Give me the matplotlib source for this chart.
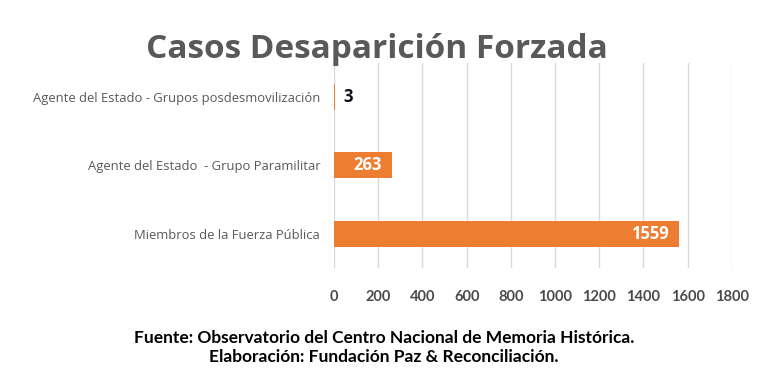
import matplotlib
matplotlib.use("Agg")
from matplotlib import pyplot as plt

# Data
categories = ["Agente del Estado - Grupos posdesmovilización",
              "Agente del Estado  - Grupo Paramilitar",
              "Miembros de la Fuerza Pública"]
values = [3, 263, 1559]
xTicks = [0, 200, 400, 600, 800, 1000, 1200, 1400, 1600, 1800]

barColor = "#ED7D31"
textGray = "#595959"

figure = plt.figure(figsize=(7.68, 3.88), dpi=100)
axis = figure.add_axes([0.435, 0.309, 0.518, 0.529])

positions = list(range(len(categories)))
axis.barh(positions, values, height=0.38, color=barColor, zorder=3)

axis.set_xlim(0, 1800)
axis.set_ylim(2.5, -0.5)
axis.set_xticks(xTicks)
axis.set_yticks(positions)
axis.set_yticklabels(categories, fontsize=9.4, color=textGray, family="Open Sans")
axis.tick_params(axis="y", length=0, pad=10)
axis.tick_params(axis="x", length=0, pad=16, labelsize=10.5, labelcolor="#4a4a4a")
for label in axis.get_xticklabels():
    label.set_fontweight("bold")
    label.set_family("Lato")

axis.grid(axis="x", color="#D9D9D9", linewidth=1.0, zorder=0)
for spine in axis.spines.values():
    spine.set_visible(False)

# Value labels: small bars outside, larger bars inside end
for pos, val in zip(positions, values):
    if val < 100:
        axis.text(val + 40, pos, str(val), va="center", ha="left",
                  fontsize=12, fontweight="bold", color="#111111", family="Open Sans")
    else:
        axis.text(val - 45, pos, str(val), va="center", ha="right",
                  fontsize=12, fontweight="bold", color="white", family="Open Sans")

figure.text(0.491, 0.873, "Casos Desaparición Forzada", ha="center", va="center",
            fontsize=24, fontweight="bold", color=textGray, family="Open Sans")

figure.text(0.5, 0.128, "Fuente: Observatorio del Centro Nacional de Memoria Histórica.",
            ha="center", va="center", fontsize=12.5, fontweight="bold", color="black", family="Lato")
figure.text(0.5, 0.08, "Elaboración: Fundación Paz & Reconciliación.",
            ha="center", va="center", fontsize=12.5, fontweight="bold", color="black", family="Lato")

figure.savefig("out.png", dpi=100, facecolor="white")
